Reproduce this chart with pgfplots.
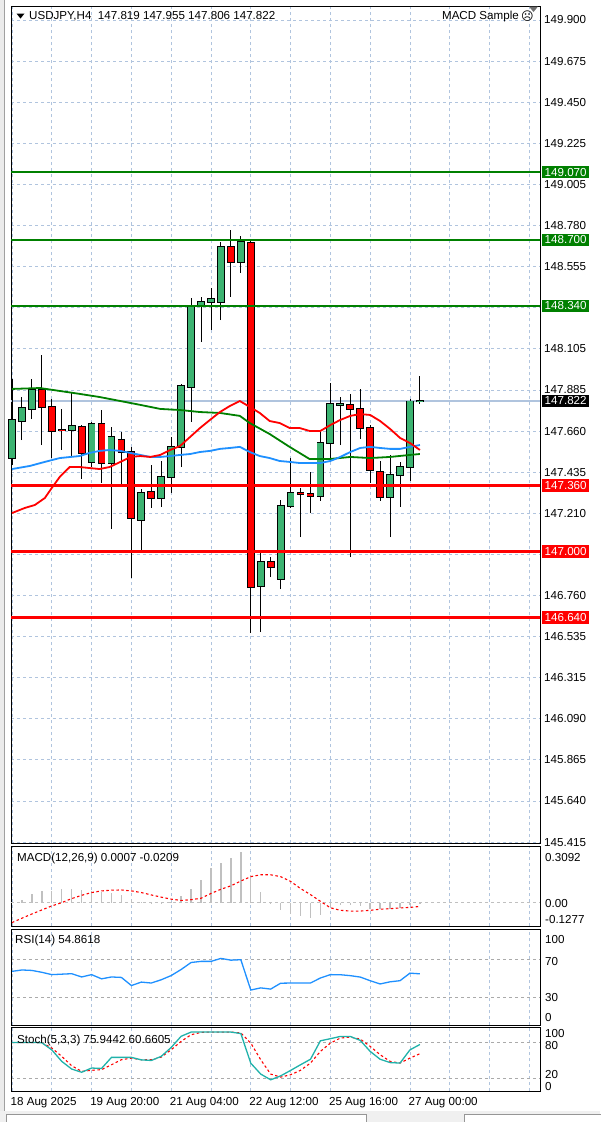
\documentclass[border=0pt]{standalone}
\usepackage{pgfplots}
\usepackage{pgfplotstable}
\pgfplotsset{compat=1.18}
\usepackage{fontspec}
\setmainfont{Liberation Sans}
\newfontfamily\djv{DejaVu Sans}
\definecolor{gridc}{RGB}{176,196,222}
\definecolor{mtgreen}{RGB}{0,128,0}
\definecolor{mtred}{RGB}{255,0,0}
\definecolor{cupc}{RGB}{60,179,113}
\definecolor{mablue}{RGB}{30,144,255}
\definecolor{histc}{RGB}{192,192,192}
\definecolor{stochc}{RGB}{32,178,170}
\definecolor{lvlgray}{RGB}{170,170,170}
\definecolor{bgl}{RGB}{235,235,235}
\definecolor{bgm}{RGB}{160,160,160}
\definecolor{bgt}{RGB}{240,240,240}
\definecolor{bgb}{RGB}{150,150,150}
\definecolor{shiftc}{RGB}{110,110,110}
\newcommand\fs{\fontsize{11.6}{13}\selectfont}
\pgfplotsset{
  mtpanel/.style={scale only axis, width=529pt, xmin=-0.1, xmax=53.07, anchor=north west,
    axis line style={black, line width=0.9pt}, xtick={0,4,...,52}, xticklabels={},
    xtick style={draw=none}, xmajorgrids,
    x grid style={gridc, dash pattern=on 3pt off 3pt, line width=0.8pt},
    clip=false, font=\fs, ytick style={draw=none}},
  wick/.style={draw=none, mark=none, forget plot, error bars/.cd, y dir=plus, y explicit,
    error mark=none, error bar style={draw=black, line width=0.9pt}},
  body/.style={draw=none, mark=none, forget plot, error bars/.cd, y dir=plus, y explicit,
    error mark=none, error bar style={draw=#1, line width=6pt, line cap=butt}},
  bodyline/.style={draw=none, mark=none, forget plot, error bars/.cd, y dir=plus, y explicit,
    error mark=none, error bar style={draw=black, line width=7.8pt, line cap=butt}},
}

% rising candles: bar index, open, high, low, close
\pgfplotstableread{
k O H L C
0 147.510 147.940 147.472 147.718
1 147.712 147.843 147.608 147.783
2 147.778 147.940 147.723 147.881
6 147.663 147.865 147.521 147.685
8 147.488 147.707 147.461 147.696
10 147.483 147.679 147.123 147.625
13 147.172 147.341 147.003 147.319
15 147.292 147.494 147.243 147.407
16 147.407 147.625 147.319 147.570
17 147.570 147.914 147.461 147.903
18 147.898 148.383 147.707 148.334
19 148.339 148.389 148.143 148.361
20 148.361 148.438 148.209 148.378
21 148.361 148.689 148.263 148.661
23 148.580 148.721 148.520 148.689
25 146.812 146.992 146.561 146.943
27 146.850 147.281 146.795 147.249
28 147.249 147.510 147.238 147.319
31 147.303 147.652 147.276 147.592
32 147.592 147.919 147.505 147.805
33 147.799 147.843 147.581 147.805
38 147.298 147.527 147.079 147.417
39 147.417 147.488 147.243 147.461
40 147.461 147.832 147.385 147.819
41 147.819 147.955 147.806 147.822
}\uptab
% falling candles
\pgfplotstableread{
k O H L C
3 147.881 148.072 147.581 147.788
4 147.788 147.832 147.510 147.657
5 147.665 147.778 147.554 147.660
7 147.679 147.690 147.396 147.537
9 147.696 147.772 147.374 147.483
11 147.608 147.652 147.352 147.543
12 147.543 147.570 146.856 147.183
14 147.325 147.472 147.238 147.292
22 148.661 148.754 148.389 148.580
24 148.683 148.694 146.555 146.806
26 146.943 146.970 146.861 146.916
29 147.319 147.347 147.079 147.314
30 147.314 147.434 147.210 147.303
34 147.799 147.859 146.970 147.778
35 147.778 147.887 147.614 147.674
36 147.674 147.690 147.374 147.445
37 147.434 147.494 147.276 147.298
}\dntab

\pgfplotstableread{
k ma
0 0.003
1 0.012
2 0.045
3 0.062
4 0.066
5 0.072
6 0.075
7 0.068
8 0.066
9 0.058
10 0.052
11 0.044
12 0.012
13 0.004
14 -0.006
15 -0.008
16 0.006
17 0.035
18 0.077
19 0.124
20 0.188
21 0.216
22 0.243
23 0.277
24 0.152
25 0.059
26 -0.005
27 -0.042
28 -0.061
29 -0.074
30 -0.085
31 -0.070
32 -0.024
33 -0.015
34 -0.015
35 -0.020
36 -0.033
37 -0.035
38 -0.033
39 -0.030
40 -0.015
41 0.0007
}\macdtab
\pgfplotstableread{
k sig
0 -0.109
1 -0.085
2 -0.062
3 -0.040
4 -0.018
5 0.000
6 0.022
7 0.040
8 0.055
9 0.064
10 0.068
11 0.069
12 0.064
13 0.055
14 0.042
15 0.030
16 0.019
17 0.012
18 0.016
19 0.024
20 0.050
21 0.073
22 0.092
23 0.118
24 0.142
25 0.152
26 0.152
27 0.142
28 0.116
29 0.077
30 0.044
31 0.007
32 -0.028
33 -0.042
34 -0.046
35 -0.046
36 -0.042
37 -0.036
38 -0.033
39 -0.029
40 -0.026
41 -0.0209
}\sigtab
\pgfplotstableread{
k rsi
0 57.5
1 59.0
2 58.5
3 56.5
4 54.0
5 54.5
6 55.0
7 51.5
8 54.0
9 49.5
10 51.5
11 51.0
12 42.3
13 46.0
14 45.0
15 48.5
16 53.0
17 59.5
18 67.0
19 68.2
20 68.2
21 71.4
22 69.5
23 70.0
24 37.5
25 39.8
26 38.5
27 44.8
28 45.0
29 45.0
30 45.0
31 50.4
32 54.0
33 53.9
34 52.9
35 51.4
36 47.5
37 44.0
38 46.3
39 47.5
40 55.6
41 54.86
}\rsitab
\pgfplotstableread{
k main sig
0 79.3 79.0
1 79.3 79.0
2 79.3 79.0
3 78.8 79.0
4 67.0 70.0
5 48.0 56.3
6 35.3 40.8
7 30.0 31.5
8 37.0 33.2
9 36.3 34.3
10 54.6 42.4
11 54.6 50.7
12 54.6 53.4
13 50.5 50.7
14 49.5 50.7
15 56.3 55.0
16 71.0 67.2
17 89.5 81.0
18 96.4 92.0
19 96.4 96.0
20 96.4 96.4
21 96.4 96.4
22 96.4 96.4
23 94.0 95.0
24 45.0 78.2
25 27.0 50.7
26 17.5 27.0
27 24.0 22.0
28 33.0 25.9
29 42.4 33.2
30 51.5 45.2
31 82.0 64.5
32 85.5 78.2
33 89.2 86.5
34 89.2 88.2
35 82.7 84.8
36 64.5 72.8
37 51.5 59.0
38 46.0 48.0
39 45.2 45.2
40 67.0 53.4
41 75.94 60.66
}\stochtab

\begin{document}
\begin{tikzpicture}[x=1pt,y=1pt]
\path[use as bounding box] (0,0) rectangle (600,-1122);
\fill[white] (0,0) rectangle (600,-1122);
\fill[bgl] (0,0) rectangle (4,-1122);
\draw[bgm, line width=0.8pt] (4,0) -- (4,-1111);
\fill[bgt] (0,-1111) rectangle (600,-1122);
\draw[bgb, fill=white] (6,-1114) rectangle (366,-1123);
\draw[bgb, fill=white] (464,-1114) rectangle (601,-1123);

% ===== main price chart =====
\begin{axis}[mtpanel, at={(11pt,-6pt)}, height=837pt,
  ymin=145.41, ymax=149.976,
  ytick={149.9,149.67575,149.4515,149.22725,149.003,148.77875,148.5545,148.33025,148.106,147.88175,147.6575,147.43325,147.209,146.98475,146.7605,146.53625,146.312,146.08775,145.8635,145.63925,145.415},
  yticklabels={149.900,149.675,149.450,149.225,149.005,148.780,148.555,,148.105,147.885,147.660,147.435,147.210,,146.760,146.535,146.315,146.090,145.865,145.640,145.415},
  ymajorgrids, y grid style={gridc, dash pattern=on 3pt off 3pt, line width=0.8pt},
  ytick pos=right, yticklabel pos=right, tick align=outside, major tick length=3pt,
  ytick style={black, line width=0.8pt},
  yticklabel style={anchor=west, inner sep=0pt, xshift=1pt, font=\fs},
]
\addplot[gridc, line width=1.3pt] coordinates {(-0.1,147.822) (53.07,147.822)};

% wicks
\addplot[wick] table[x=k, y=L, y error expr=\thisrow{H}-\thisrow{L}] {\uptab};
\addplot[wick] table[x=k, y=L, y error expr=\thisrow{H}-\thisrow{L}] {\dntab};
% bodies: black outline then colour
\addplot[bodyline] table[x=k, y expr=\thisrow{O}-0.0048, y error expr=\thisrow{C}-\thisrow{O}+0.0096] {\uptab};
\addplot[body=cupc] table[x=k, y=O, y error expr=\thisrow{C}-\thisrow{O}] {\uptab};
\addplot[bodyline] table[x=k, y expr=\thisrow{C}-0.0048, y error expr=\thisrow{O}-\thisrow{C}+0.0096] {\dntab};
\addplot[body=mtred] table[x=k, y=C, y error expr=\thisrow{O}-\thisrow{C}] {\dntab};

% moving averages
\addplot[mtgreen, line width=1.8pt] coordinates {(0,147.887)(2.8,147.892)(4.8,147.876)(6.8,147.860)(8.8,147.843)(10.9,147.821)(12.9,147.800)(14.9,147.778)(16.9,147.772)(18.9,147.761)(20.9,147.756)(22.9,147.740)(23.9,147.701)(25.9,147.641)(27.9,147.571)(29.9,147.505)(32.0,147.505)(34.0,147.516)(36.0,147.510)(38.0,147.516)(40.0,147.527)(41.0,147.532)};
\addplot[mablue, line width=1.8pt] coordinates {(0,147.450)(1.8,147.467)(3.3,147.489)(4.8,147.510)(6.8,147.521)(7.8,147.538)(8.8,147.549)(9.8,147.554)(10.9,147.549)(11.9,147.538)(12.9,147.527)(13.9,147.516)(14.9,147.516)(15.9,147.521)(16.9,147.527)(17.9,147.532)(18.9,147.543)(19.9,147.549)(20.9,147.560)(21.9,147.565)(22.9,147.571)(23.9,147.543)(24.9,147.521)(25.9,147.510)(26.9,147.494)(27.9,147.489)(28.9,147.483)(31.0,147.483)(32.0,147.494)(33.0,147.516)(34.0,147.543)(35.0,147.565)(36.0,147.571)(37.0,147.565)(38.0,147.560)(39.0,147.560)(40.0,147.571)(41.0,147.581)};
\addplot[mtred, line width=1.8pt] coordinates {(0,147.210)(1.3,147.238)(2.3,147.254)(3.3,147.292)(4.0,147.347)(4.8,147.407)(5.8,147.461)(6.8,147.461)(8.8,147.450)(9.8,147.461)(10.9,147.489)(11.9,147.516)(12.9,147.521)(13.9,147.516)(14.9,147.527)(15.9,147.554)(16.9,147.576)(17.9,147.625)(18.9,147.674)(19.9,147.718)(20.9,147.761)(21.9,147.794)(22.9,147.821)(23.9,147.789)(24.9,147.756)(25.9,147.712)(26.9,147.701)(27.9,147.674)(28.9,147.674)(29.9,147.658)(31.0,147.658)(32.0,147.690)(33.0,147.718)(34.0,147.740)(35.0,147.750)(36.0,147.745)(37.0,147.712)(38.0,147.669)(39.0,147.620)(40.0,147.592)(41.0,147.554)};

% horizontal levels
\addplot[mtgreen, line width=2.2pt] coordinates {(-0.1,149.070) (53.07,149.070)};
\addplot[mtgreen, line width=2.2pt] coordinates {(-0.1,148.700) (53.07,148.700)};
\addplot[mtgreen, line width=2.2pt] coordinates {(-0.1,148.340) (53.07,148.340)};
\addplot[mtred, line width=2.2pt] coordinates {(-0.1,147.360) (53.07,147.360)};
\addplot[mtred, line width=2.2pt] coordinates {(-0.1,147.000) (53.07,147.000)};
\addplot[mtred, line width=2.2pt] coordinates {(-0.1,146.640) (53.07,146.640)};

\coordinate (L1) at (axis cs:53.07,149.070);
\coordinate (L2) at (axis cs:53.07,148.700);
\coordinate (L3) at (axis cs:53.07,148.340);
\coordinate (L4) at (axis cs:53.07,147.822);
\coordinate (L5) at (axis cs:53.07,147.360);
\coordinate (L6) at (axis cs:53.07,147.000);
\coordinate (L7) at (axis cs:53.07,146.640);
\end{axis}
\tikzset{lbl/.style={anchor=west, inner xsep=2.5pt, inner ysep=0pt, minimum height=12.5pt, font=\fs, xshift=2pt, text=white}}
\node[lbl, fill=mtgreen] at (L1) {149.070};
\node[lbl, fill=mtgreen] at (L2) {148.700};
\node[lbl, fill=mtgreen] at (L3) {148.340};
\node[lbl, fill=black] at (L4) {147.822};
\node[lbl, fill=mtred] at (L5) {147.360};
\node[lbl, fill=mtred] at (L6) {147.000};
\node[lbl, fill=mtred] at (L7) {146.640};

% header texts
\fill[black] (16.5,-13.5) -- (24.5,-13.5) -- (20.5,-18.5) -- cycle;
\node[anchor=west, inner sep=0pt, font=\fs] at (29,-16.5) {USDJPY,H4\ \ 147.819 147.955 147.806 147.822};
\node[anchor=east, inner sep=0pt, font=\fs] at (519,-16.5) {MACD Sample};
\node[anchor=west, inner sep=0pt, font=\djv\fontsize{12}{13}\selectfont] at (521,-16.5) {☹};
\fill[shiftc] (529,-6.5) -- (538,-6.5) -- (533.5,-12) -- cycle;

% ===== MACD =====
\begin{axis}[mtpanel, at={(11pt,-846pt)}, height=80pt, ymin=-0.1277, ymax=0.3092,
  ytick={0}, yticklabels={}, ymajorgrids,
  y grid style={histc, dash pattern=on 3pt off 3pt, line width=0.8pt}]
\addplot[ycomb, histc, line width=1.4pt] table[x=k, y=ma] {\macdtab};
\addplot[mtred, line width=1.1pt, dash pattern=on 2.5pt off 2.5pt] table[x=k, y=sig] {\sigtab};
\end{axis}
\node[anchor=west, inner sep=0pt, font=\fs] at (17,-858) {MACD(12,26,9) 0.0007 -0.0209};
\node[anchor=west, inner sep=0pt, font=\fs] at (545,-857) {0.3092};
\node[anchor=west, inner sep=0pt, font=\fs] at (545,-903) {0.00};
\node[anchor=west, inner sep=0pt, font=\fs] at (545,-919) {-0.1277};

% ===== RSI =====
\begin{axis}[mtpanel, at={(11pt,-929pt)}, height=96pt, ymin=0, ymax=102.9,
  ytick={30,70}, yticklabels={}, ymajorgrids,
  y grid style={lvlgray, dash pattern=on 3pt off 3pt, line width=0.8pt}]
\addplot[mablue, line width=1.3pt] table[x=k, y=rsi] {\rsitab};
\end{axis}
\node[anchor=west, inner sep=0pt, font=\fs] at (15,-940) {RSI(14) 54.8618};
\node[anchor=west, inner sep=0pt, font=\fs] at (545,-939) {100};
\node[anchor=west, inner sep=0pt, font=\fs] at (545,-961) {70};
\node[anchor=west, inner sep=0pt, font=\fs] at (545,-997.5) {30};
\node[anchor=west, inner sep=0pt, font=\fs] at (545,-1017.5) {0};

% ===== Stochastic =====
\begin{axis}[mtpanel, at={(11pt,-1027pt)}, height=64pt, ymin=-1, ymax=104.8,
  ytick={20,80}, yticklabels={}, ymajorgrids,
  y grid style={lvlgray, dash pattern=on 3pt off 3pt, line width=0.8pt},
  extra x ticks={0,8,16,24,32,40},
  extra x tick labels={18 Aug 2025,19 Aug 20:00,21 Aug 04:00,22 Aug 12:00,25 Aug 16:00,27 Aug 00:00},
  extra x tick style={grid=none, tick style={draw=black, line width=0.8pt}, tick align=outside, major tick length=4pt,
    xticklabel style={anchor=north west, inner sep=0pt, xshift=-1.5pt, yshift=-2pt, font=\fs}},
]
\addplot[mtred, line width=1.1pt, dash pattern=on 2.5pt off 2.5pt] table[x=k, y=sig] {\stochtab};
\addplot[stochc, line width=1.3pt] table[x=k, y=main] {\stochtab};
\end{axis}
\node[anchor=west, inner sep=0pt, font=\fs] at (17,-1040) {Stoch(5,3,3) 75.9442 60.6605};
\node[anchor=west, inner sep=0pt, font=\fs] at (545,-1033.5) {100};
\node[anchor=west, inner sep=0pt, font=\fs] at (545,-1045) {80};
\node[anchor=west, inner sep=0pt, font=\fs] at (545,-1074.5) {20};
\node[anchor=west, inner sep=0pt, font=\fs] at (545,-1086) {0};
\end{tikzpicture}
\end{document}
